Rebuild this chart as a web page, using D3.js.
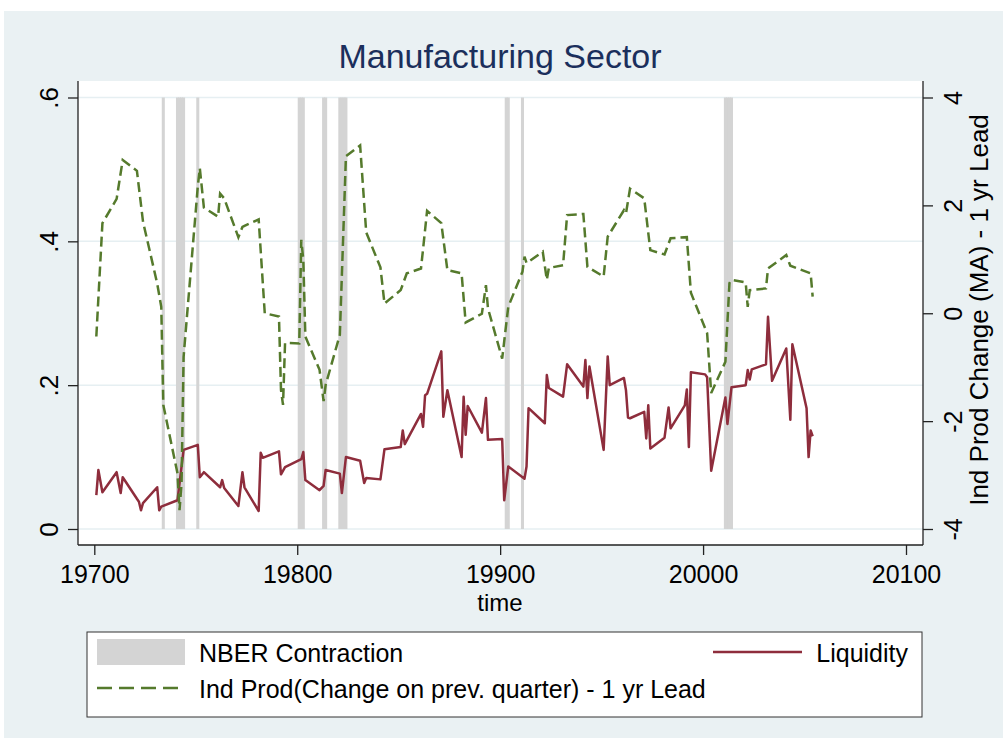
<!DOCTYPE html>
<html>
<head>
<meta charset="utf-8">
<script src="https://cdn.jsdelivr.net/npm/d3@7"></script>
<style>
  body { margin: 0; background: #fff; }
  svg { display: block; font-family: "Liberation Sans", Arial, Helvetica, sans-serif; }
</style>
</head>
<body>
<div id="chart"></div>
<script>
// time is coded as year*10 + quarter (19701 = 1970 q1)
var nberQuarters = [19734, 19741, 19742, 19743, 19744, 19751,
	19801, 19802, 19803, 19813, 19814, 19821, 19822, 19823, 19824,
	19903, 19904, 19911, 20011, 20012, 20013, 20014];

// Liquidity (left axis)
var liqTime = [19701, 19702, 19704, 19711, 19713, 19714, 19721, 19722, 19723, 19724,
	19731, 19732, 19733, 19741, 19744, 19751, 19752, 19754, 19762, 19763, 19764,
	19771, 19773, 19774, 19781, 19782, 19783, 19791, 19792, 19794, 19802, 19803, 19804,
	19811, 19813, 19814, 19821, 19822, 19824, 19831, 19833, 19834, 19841, 19843,
	19851, 19852, 19853, 19861, 19862, 19863, 19864, 19871, 19872, 19874,
	19881, 19882, 19883, 19884, 19891, 19893, 19894, 19901, 19902, 19904,
	19912, 19913, 19914, 19922, 19923, 19924, 19931, 19933, 19941, 19942, 19943, 19944,
	19951, 19953, 19954, 19961, 19962, 19963, 19964, 19971, 19972, 19973, 19974,
	19981, 19983, 19984, 19991, 19992, 19993, 19994, 20001, 20002, 20004,
	20011, 20012, 20014, 20021, 20022, 20023, 20024, 20031, 20032, 20034,
	20041, 20043, 20044, 20051, 20052, 20053, 20054];
var liqValue = [0.047, 0.082, 0.051, 0.079, 0.050, 0.072, 0.042, 0.038, 0.026, 0.036,
	0.058, 0.026, 0.031, 0.040, 0.110, 0.117, 0.072, 0.079, 0.058, 0.068, 0.057,
	0.032, 0.079, 0.058, 0.025, 0.106, 0.099, 0.108, 0.076, 0.086, 0.097, 0.107, 0.068,
	0.054, 0.060, 0.082, 0.077, 0.050, 0.100, 0.095, 0.064, 0.071, 0.069, 0.111,
	0.114, 0.137, 0.118, 0.160, 0.142, 0.186, 0.188, 0.247, 0.156, 0.193,
	0.100, 0.184, 0.131, 0.171, 0.134, 0.182, 0.124, 0.125, 0.040, 0.087,
	0.070, 0.087, 0.168, 0.147, 0.214, 0.196, 0.184, 0.229, 0.198, 0.235, 0.182, 0.226,
	0.110, 0.240, 0.200, 0.210, 0.193, 0.155, 0.154, 0.163, 0.126, 0.172, 0.112,
	0.127, 0.169, 0.140, 0.172, 0.194, 0.114, 0.218, 0.215, 0.211, 0.081,
	0.183, 0.146, 0.197, 0.200, 0.221, 0.208, 0.222, 0.229, 0.295, 0.206,
	0.251, 0.152, 0.257, 0.168, 0.100, 0.137, 0.129];

// Ind Prod change, 1 yr lead (right axis)
var indTime = [19701, 19704, 19711, 19714, 19721, 19724, 19731, 19733, 19734,
	19741, 19742, 19743, 19744, 19751, 19752, 19754, 19761, 19762, 19764,
	19771, 19773, 19774, 19781, 19784, 19791, 19792, 19793, 19794,
	19801, 19802, 19803, 19804, 19811, 19813, 19814, 19821, 19824, 19831, 19834,
	19841, 19843, 19851, 19854, 19861, 19864, 19871, 19874, 19881, 19883,
	19891, 19893, 19894, 19901, 19904, 19911, 19912, 19913, 19921, 19923, 19924,
	19931, 19933, 19941, 19943, 19951, 19953, 19961, 19962, 19964, 19971, 19974,
	19981, 19984, 19992, 19994, 20002, 20004, 20011, 20013, 20014,
	20021, 20022, 20023, 20031, 20032, 20041, 20043, 20053, 20054];
var indValue = [-0.43, 1.67, 2.12, 2.84, 2.64, 1.70, 0.55, 0.12, -1.70,
	-2.97, -3.65, -3.15, -0.81, 2.35, 2.69, 1.96, 1.79, 2.22, 2.13,
	1.41, 1.60, 1.62, 1.74, 0.00, -0.06, -1.42, -1.70, -0.55,
	-0.56, 1.36, 0.99, -0.43, -1.05, -1.63, -1.33, -0.40, 2.91, 3.11, 1.50,
	0.85, 0.18, 0.43, 0.74, 0.83, 1.90, 1.67, 0.80, 0.74, -0.17,
	-0.01, 0.52, 0.09, -0.84, 0.12, 0.77, 1.05, 0.93, 1.14, 0.62, 0.84,
	0.89, 1.82, 1.84, 0.86, 0.68, 1.42, 1.91, 1.85, 2.31, 2.13, 1.17,
	1.09, 1.39, 1.41, 0.38, -0.37, -1.48, -0.90, 0.56, 0.62,
	0.57, 0.12, 0.43, 0.46, 0.83, 1.08, 0.88, 0.74, 0.31];

var xTicks = [19700, 19800, 19900, 20000, 20100];
var leftTicks = [0, 0.2, 0.4, 0.6];
var leftTickLabels = ["0", ".2", ".4", ".6"];
var rightTicks = [-4, -2, 0, 2, 4];
var rightTickLabels = ["-4", "-2", "0", "2", "4"];

var width = 1003, height = 738;
var plot = { left: 78, right: 923, top: 81, bottom: 545 };

var red = "#8e2d3c", green = "#557a2c", band = "#d4d4d4", bg = "#eaf1f3";

var svg = d3.select("#chart").append("svg")
	.attr("width", width)
	.attr("height", height);

// graph region
svg.append("rect").attr("x", 4).attr("y", 11)
	.attr("width", width - 4).attr("height", height - 11).attr("fill", bg);
svg.append("rect").attr("x", plot.left).attr("y", plot.top)
	.attr("width", plot.right - plot.left).attr("height", plot.bottom - plot.top)
	.attr("fill", "#fff");

var x = d3.scaleLinear().domain([19700, 20100]).range([94.3, 906]);
var yL = d3.scaleLinear().domain([0, 0.6]).range([529, 97.5]);
var yR = d3.scaleLinear().domain([-4, 4]).range([529, 97.5]);

// grid
svg.append("g").selectAll("line").data(leftTicks).enter().append("line")
	.attr("x1", plot.left).attr("x2", plot.right)
	.attr("y1", d => yL(d)).attr("y2", d => yL(d))
	.attr("stroke", "#e6eff2").attr("stroke-width", 1.5);

// NBER bands
svg.append("g").selectAll("rect").data(nberQuarters).enter().append("rect")
	.attr("x", d => x(d - 0.75))
	.attr("width", d => x(d + 0.75) - x(d - 0.75))
	.attr("y", yL(0.6))
	.attr("height", yL(0) - yL(0.6))
	.attr("fill", band);

var liq = liqTime.map((t, i) => ({ t: t, v: liqValue[i] }));
var ind = indTime.map((t, i) => ({ t: t, v: indValue[i] }));

svg.append("path").datum(liq)
	.attr("fill", "none").attr("stroke", red).attr("stroke-width", 2.5)
	.attr("stroke-linejoin", "round")
	.attr("d", d3.line().x(d => x(d.t)).y(d => yL(d.v)));

svg.append("path").datum(ind)
	.attr("fill", "none").attr("stroke", green).attr("stroke-width", 2.5)
	.attr("stroke-dasharray", "10,5")
	.attr("d", d3.line().x(d => x(d.t)).y(d => yR(d.v)));

// axes
function styleAxis(g) {
	g.select(".domain").remove();
	g.selectAll(".tick line").attr("stroke", "#222").attr("stroke-width", 1.3);
	g.selectAll("text").attr("fill", "#000").attr("font-size", 25)
		.attr("font-family", "Liberation Sans, Arial, sans-serif");
}

var axL = svg.append("g").attr("transform", `translate(${plot.left},0)`)
	.call(d3.axisLeft(yL).tickValues(leftTicks).tickFormat((d, i) => leftTickLabels[i]).tickSize(10))
	.call(styleAxis);
axL.selectAll("text").attr("x", 0).attr("y", -20).attr("dy", 0)
	.attr("transform", "rotate(-90)").attr("text-anchor", "middle").attr("font-size", 26);

var axR = svg.append("g").attr("transform", `translate(${plot.right},0)`)
	.call(d3.axisRight(yR).tickValues(rightTicks).tickFormat((d, i) => rightTickLabels[i]).tickSize(10))
	.call(styleAxis);
axR.selectAll("text").attr("x", 0).attr("y", 39).attr("dy", 0)
	.attr("transform", "rotate(-90)").attr("text-anchor", "middle");

var axB = svg.append("g").attr("transform", `translate(0,${plot.bottom})`)
	.call(d3.axisBottom(x).tickValues(xTicks).tickFormat(d3.format("d")).tickSize(10))
	.call(styleAxis);
axB.selectAll("text").attr("y", 38).attr("dy", 0);

// axis lines
var axisLines = [
	[plot.left, plot.top, plot.left, plot.bottom],
	[plot.left, plot.bottom, plot.right, plot.bottom],
	[plot.right, plot.top, plot.right, plot.bottom]
];
svg.append("g").selectAll("line").data(axisLines).enter().append("line")
	.attr("x1", d => d[0]).attr("y1", d => d[1]).attr("x2", d => d[2]).attr("y2", d => d[3])
	.attr("stroke", "#222").attr("stroke-width", 1.3);

// titles
svg.append("text").attr("x", 500).attr("y", 68).attr("text-anchor", "middle")
	.attr("font-size", 34).attr("fill", "#1b2f5c").text("Manufacturing Sector");

svg.append("text").attr("x", 500).attr("y", 611).attr("text-anchor", "middle")
	.attr("font-size", 24).text("time");

svg.append("text").attr("transform", "translate(988,310) rotate(-90)")
	.attr("text-anchor", "middle").attr("font-size", 26)
	.text("Ind Prod Change (MA) - 1 yr Lead");

// legend
var lg = svg.append("g");
lg.append("rect").attr("x", 87).attr("y", 632).attr("width", 835).attr("height", 85)
	.attr("fill", "#fff").attr("stroke", "#333").attr("stroke-width", 1);
lg.append("rect").attr("x", 97).attr("y", 639).attr("width", 88).attr("height", 26)
	.attr("fill", band);
lg.append("text").attr("x", 199).attr("y", 662).attr("font-size", 25).text("NBER Contraction");
lg.append("line").attr("x1", 713).attr("x2", 802).attr("y1", 652).attr("y2", 652)
	.attr("stroke", red).attr("stroke-width", 2.5);
lg.append("text").attr("x", 908).attr("y", 662).attr("text-anchor", "end")
	.attr("font-size", 25).text("Liquidity");
lg.append("line").attr("x1", 97).attr("x2", 178).attr("y1", 688).attr("y2", 688)
	.attr("stroke", green).attr("stroke-width", 2.5).attr("stroke-dasharray", "15,7");
lg.append("text").attr("x", 199).attr("y", 698).attr("font-size", 25)
	.text("Ind Prod(Change on prev. quarter) - 1 yr Lead");
</script>
</body>
</html>
